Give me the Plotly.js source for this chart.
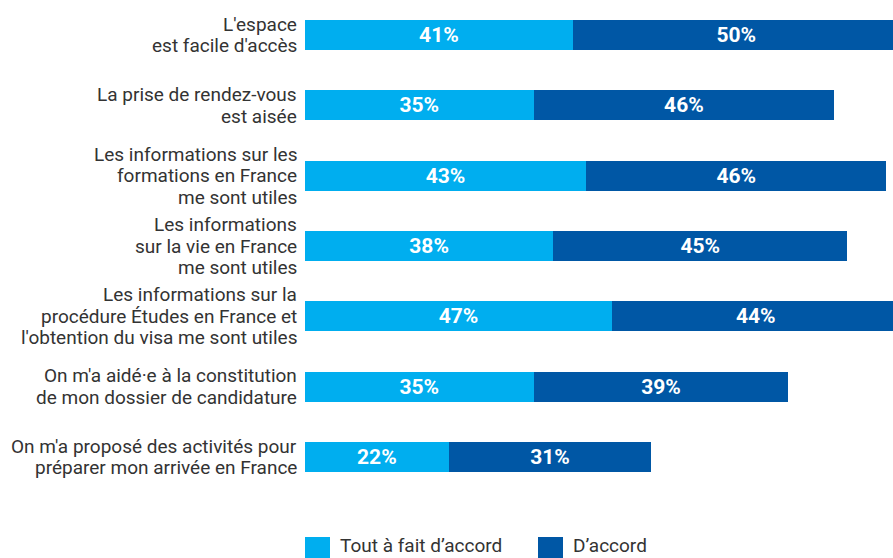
<!DOCTYPE html>
<html>
<head>
<meta charset="utf-8">
<script src="https://cdn.plot.ly/plotly-3.0.1.min.js"></script>
<style>html,body{margin:0;padding:0;background:#fff;}#chart{width:893px;height:558px;}</style>
</head>
<body>
<div id="chart"></div>
<script>
const categories = [
  "L'espace<br>est facile d'accès",
  "La prise de rendez-vous<br>est aisée",
  "Les informations sur les<br>formations en France<br>me sont utiles",
  "Les informations<br>sur la vie en France<br>me sont utiles",
  "Les informations sur la<br>procédure Études en France et<br>l'obtention du visa me sont utiles",
  "On m'a aidé·e à la constitution<br>de mon dossier de candidature",
  "On m'a proposé des activités pour<br>préparer mon arrivée en France"
];
const seriesNames = ["Tout à fait d’accord", "D’accord"];
const toutAFait = [41, 35, 43, 38, 47, 35, 22];
const dAccord = [50, 46, 46, 45, 44, 39, 31];
const colors = ["#00AEEF", "#0057A5"];

const W = 893, H = 558, L = 305, R = 0, T = 0, B = 66;
const pw = W - L - R, ph = H - T - B;
const LINE = 21.7;

function mk(vals, name, color) {
  return {
    type: 'bar', orientation: 'h', name: name,
    y: categories, x: vals,
    marker: {color: color},
    text: vals.map(v => v + '%'),
    textposition: 'inside', insidetextanchor: 'middle',
    textfont: {family: 'Roboto', size: 21, color: '#ffffff', weight: 700},
    hoverinfo: 'skip', showlegend: false
  };
}
const data = [mk(toutAFait, seriesNames[0], colors[0]), mk(dAccord, seriesNames[1], colors[1])];

// category labels: one annotation per line, tight line spacing
const annotations = [];
categories.forEach(c => {
  const lines = c.split('<br>');
  const n = lines.length;
  lines.forEach((ln, j) => {
    annotations.push({
      xref: 'paper', yref: 'y', x: 0, y: c,
      xanchor: 'right', yanchor: 'middle', xshift: -6,
      yshift: ((n - 1) / 2 - j) * LINE,
      showarrow: false, text: ln,
      font: {family: 'Roboto', size: 19, color: '#333333'}
    });
  });
});

// legend drawn as shapes + annotations (pixel -> paper conversion)
const px = x => (x - L) / pw;
const py = y => (H - B - y) / ph;
const legendItems = [
  {sx: 305, tx: 339},
  {sx: 538, tx: 572}
];
const shapes = legendItems.map((it, i) => ({
  type: 'rect', xref: 'paper', yref: 'paper',
  x0: px(it.sx), x1: px(it.sx + 25), y0: py(537), y1: py(562),
  fillcolor: colors[i], line: {width: 0}
}));
legendItems.forEach((it, i) => annotations.push({
  xref: 'paper', yref: 'paper', x: px(it.tx), y: py(558),
  xanchor: 'left', yanchor: 'bottom', showarrow: false,
  text: seriesNames[i], borderpad: 0,
  font: {family: 'Roboto', size: 19, color: '#333333'}
}));

const layout = {
  width: W, height: H,
  margin: {l: L, r: R, t: T, b: B, pad: 0},
  barmode: 'stack', bargap: 0.573,
  paper_bgcolor: '#ffffff', plot_bgcolor: '#ffffff',
  font: {family: 'Roboto', color: '#333333'},
  xaxis: {range: [0, 90], visible: false, fixedrange: true},
  yaxis: {autorange: 'reversed', showgrid: false, zeroline: false, showline: false,
          ticks: '', showticklabels: false},
  shapes: shapes, annotations: annotations,
  showlegend: false
};
Plotly.newPlot('chart', data, layout, {displayModeBar: false, staticPlot: true});
</script>
</body>
</html>
